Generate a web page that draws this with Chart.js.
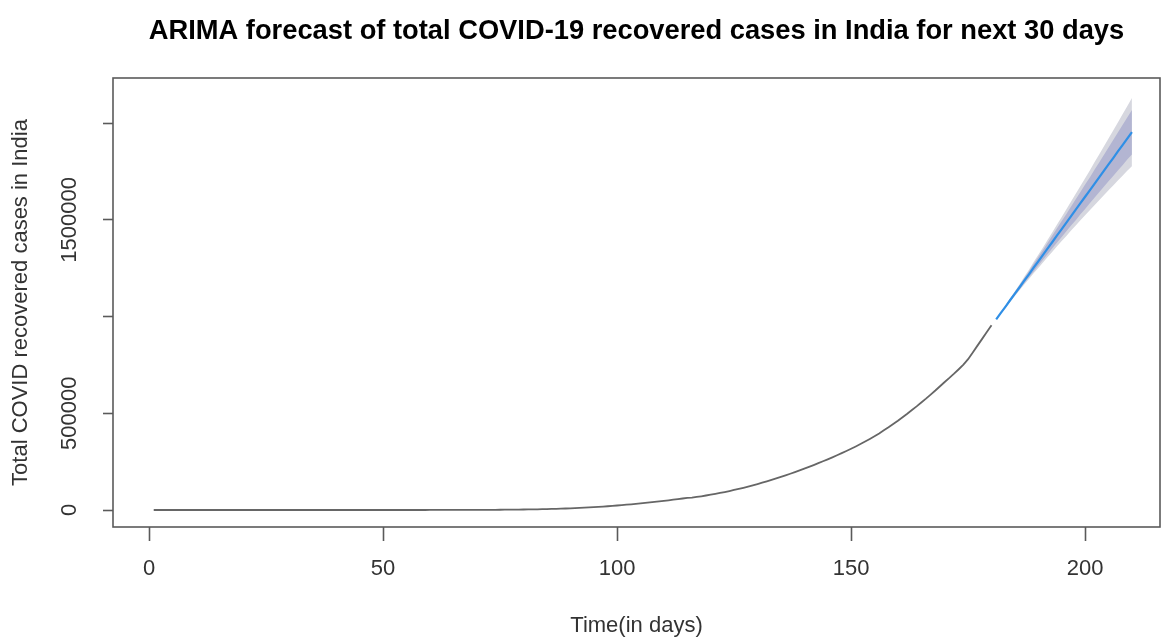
<!DOCTYPE html>
<html>
<head>
<meta charset="utf-8">
<script src="https://cdn.jsdelivr.net/npm/chart.js"></script>
<style>
  html, body { margin: 0; padding: 0; background: #ffffff; }
  #wrap { width: 1162px; height: 637px; }
</style>
</head>
<body>
<div id="wrap"><canvas id="chart" width="1162" height="637"></canvas></div>
<script>
// Total recovered cases, day 1 .. day 180
const actualRecovered = [
  0, 0, 0, 0, 0, 0, 0, 0, 0, 0,
  0, 0, 0, 0, 0, 0, 0, 0, 0, 0,
  3, 3, 3, 3, 3, 3, 3, 3, 3, 3,
  3, 3, 3, 3, 3, 3, 3, 3, 3, 3,
  3, 3, 3, 3, 3, 15, 20, 25, 30, 35,
  40, 45, 50, 60, 70, 80, 95, 110, 130, 150,
  170, 200, 230, 270, 320, 380, 450, 520, 600, 700,
  800, 900, 1000, 1150, 1300, 1500, 1700, 1950, 2200, 2500,
  2900, 3300, 3700, 4100, 4500, 5500, 6200, 7000, 7800, 8700,
  9700, 10800, 12000, 13300, 14700, 16200, 17800, 19500, 21300, 23200,
  25200, 27300, 29500, 31800, 34200, 36700, 39200, 41800, 44500, 47300,
  50200, 53200, 56300, 59500, 62800, 64000, 67500, 71000, 75000, 79000,
  83500, 88000, 93000, 98000, 103500, 109000, 115000, 121000, 127500, 134000,
  141000, 148000, 155500, 163000, 171000, 179000, 187500, 196000, 205000, 214000,
  223000, 232500, 242000, 252000, 262000, 272500, 283000, 294000, 305000, 316500,
  328500, 341000, 354000, 367500, 381500, 396000, 412000, 428000, 445000, 462000,
  480000, 498000, 517000, 536000, 556000, 576000, 597000, 618000, 640000, 662000,
  683000, 705000, 728000, 752000, 780000, 815000, 850000, 885000, 920000, 955000
];

// ARIMA point forecast, days 181 .. 210
const forecastMean = [
  986000, 1019000, 1052000, 1086000, 1119000, 1152000, 1186000, 1219000, 1253000, 1286000,
  1319000, 1353000, 1386000, 1420000, 1453000, 1486000, 1520000, 1553000, 1587000, 1620000,
  1653000, 1687000, 1720000, 1754000, 1787000, 1820000, 1854000, 1887000, 1921000, 1954000
];
// 80% prediction interval
const lower80 = [
  985000, 1017000, 1048000, 1080000, 1111000, 1142000, 1173000, 1203000, 1234000, 1264000,
  1294000, 1324000, 1353000, 1383000, 1412000, 1441000, 1471000, 1499000, 1529000, 1557000,
  1586000, 1615000, 1643000, 1672000, 1700000, 1727000, 1756000, 1783000, 1812000, 1839000
];
const upper80 = [
  987000, 1021000, 1056000, 1092000, 1127000, 1162000, 1199000, 1235000, 1272000, 1308000,
  1344000, 1382000, 1419000, 1457000, 1494000, 1531000, 1569000, 1607000, 1645000, 1683000,
  1720000, 1759000, 1797000, 1836000, 1874000, 1913000, 1952000, 1991000, 2030000, 2069000
];
// 95% prediction interval
const lower95 = [
  985000, 1016000, 1046000, 1077000, 1107000, 1136000, 1166000, 1195000, 1224000, 1252000,
  1280000, 1308000, 1336000, 1364000, 1391000, 1417000, 1445000, 1471000, 1498000, 1524000,
  1550000, 1576000, 1602000, 1628000, 1653000, 1678000, 1704000, 1728000, 1754000, 1778000
];
const upper95 = [
  987000, 1022000, 1058000, 1095000, 1131000, 1168000, 1206000, 1243000, 1282000, 1320000,
  1358000, 1398000, 1436000, 1476000, 1515000, 1555000, 1595000, 1635000, 1676000, 1716000,
  1756000, 1798000, 1838000, 1880000, 1921000, 1962000, 2004000, 2046000, 2088000, 2130000
];

const xTickValues = [0, 50, 100, 150, 200];
const yTickValues = [0, 500000, 1000000, 1500000, 2000000];
const yTickLabelled = [0, 500000, 1500000];

const firstForecastDay = actualRecovered.length + 1;
const toPoints = (values, startDay) => values.map((v, i) => ({ x: startDay + i, y: v }));

const FONT = "'Liberation Sans', Arial, sans-serif";
const AXIS_COLOR = '#5a5a5a';
const TEXT_COLOR = '#333333';

// Draws the closed box around the plotting region
const boxPlugin = {
  id: 'plotBox',
  afterDraw(chart) {
    const { ctx, chartArea: a } = chart;
    ctx.save();
    ctx.strokeStyle = AXIS_COLOR;
    ctx.lineWidth = 1.6;
    ctx.strokeRect(a.left, a.top, a.right - a.left, a.bottom - a.top);
    ctx.restore();
  }
};

const lineStyle = { pointRadius: 0, pointHoverRadius: 0, tension: 0 };

new Chart(document.getElementById('chart'), {
  type: 'line',
  data: {
    datasets: [
      { label: 'Recovered', data: toPoints(actualRecovered, 1), borderColor: '#666666', borderWidth: 1.8, fill: false, ...lineStyle },
      { label: 'Forecast', data: toPoints(forecastMean, firstForecastDay), borderColor: '#2f8fe6', borderWidth: 2.2, fill: false, ...lineStyle },
      { label: 'Hi 80', data: toPoints(upper80, firstForecastDay), borderWidth: 0, borderColor: 'rgba(0,0,0,0)', backgroundColor: '#b3b5d2', fill: { target: 3 }, ...lineStyle },
      { label: 'Lo 80', data: toPoints(lower80, firstForecastDay), borderWidth: 0, borderColor: 'rgba(0,0,0,0)', fill: false, ...lineStyle },
      { label: 'Hi 95', data: toPoints(upper95, firstForecastDay), borderWidth: 0, borderColor: 'rgba(0,0,0,0)', backgroundColor: '#d6d7df', fill: { target: 5 }, ...lineStyle },
      { label: 'Lo 95', data: toPoints(lower95, firstForecastDay), borderWidth: 0, borderColor: 'rgba(0,0,0,0)', fill: false, ...lineStyle }
    ]
  },
  options: {
    responsive: false,
    animation: false,
    events: [],
    layout: { padding: { left: 0, right: 2, top: 0, bottom: 0 } },
    plugins: {
      legend: { display: false },
      tooltip: { enabled: false },
      filler: { drawTime: 'beforeDatasetsDraw' },
      title: {
        display: true,
        fullSize: false,
        text: 'ARIMA forecast of total COVID-19 recovered cases in India for next 30 days',
        color: '#000000',
        font: { family: FONT, size: 27.3, weight: 'bold', lineHeight: 1 },
        padding: { top: 18, bottom: 32.7 }
      }
    },
    scales: {
      x: {
        type: 'linear',
        min: -7.7,
        max: 216,
        afterBuildTicks: (axis) => { axis.ticks = xTickValues.map(v => ({ value: v })); },
        afterFit: (axis) => { axis.height = 110; },
        grid: { drawOnChartArea: false, drawTicks: true, tickLength: 14, tickWidth: 1.6, tickColor: AXIS_COLOR },
        border: { display: false },
        ticks: { color: TEXT_COLOR, font: { family: FONT, size: 22, lineHeight: 1 }, padding: 17, maxRotation: 0, autoSkip: false },
        title: { display: true, text: 'Time(in days)', color: TEXT_COLOR, font: { family: FONT, size: 22, lineHeight: 1 }, padding: { top: 0, bottom: 0 } }
      },
      y: {
        type: 'linear',
        min: -87900,
        max: 2234000,
        afterBuildTicks: (axis) => { axis.ticks = yTickValues.map(v => ({ value: v })); },
        afterFit: (axis) => { axis.width = 113; },
        grid: { drawOnChartArea: false, drawTicks: true, tickLength: 10, tickWidth: 1.6, tickColor: AXIS_COLOR },
        border: { display: false },
        ticks: {
          color: TEXT_COLOR,
          font: { family: FONT, size: 22, lineHeight: 1 },
          minRotation: 90,
          maxRotation: 90,
          crossAlign: 'center',
          padding: -10,
          autoSkip: false,
          callback: (v) => (yTickLabelled.includes(v) ? String(v) : '')
        },
        title: { display: true, text: 'Total COVID recovered cases in India', color: TEXT_COLOR, font: { family: FONT, size: 22, lineHeight: 1 }, padding: { top: 10, bottom: 8 } }
      }
    }
  },
  plugins: [boxPlugin]
});
</script>
</body>
</html>
